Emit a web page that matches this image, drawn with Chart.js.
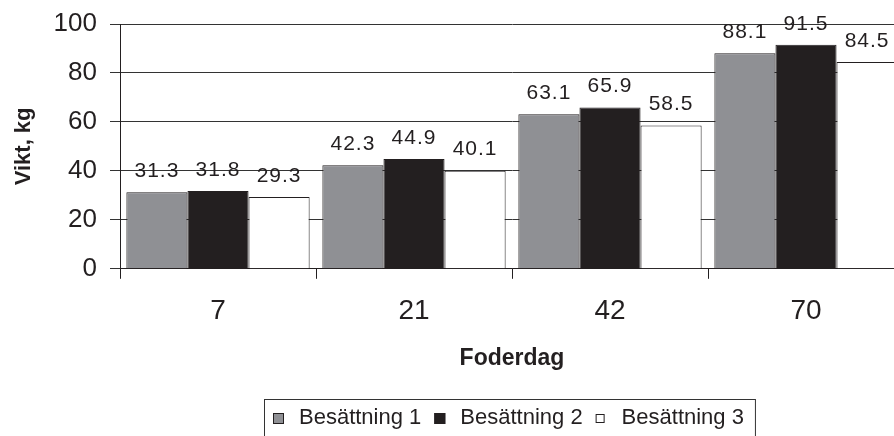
<!DOCTYPE html>
<html>
<head>
<meta charset="utf-8">
<script src="https://cdn.jsdelivr.net/npm/chart.js@4"></script>
<style>
  html, body { margin: 0; padding: 0; background: #fff; overflow: hidden; }
  #wrap { width: 894px; height: 436px; overflow: hidden; position: relative; }
  canvas { display: block; }
</style>
</head>
<body>
<div id="wrap"><canvas id="c" width="912" height="436"></canvas></div>
<script>
const categories = ['7', '21', '42', '70'];
const seriesNames = ['Besättning 1', 'Besättning 2', 'Besättning 3'];
const besattning1 = [31.3, 42.3, 63.1, 88.1];
const besattning2 = [31.8, 44.9, 65.9, 91.5];
const besattning3 = [29.3, 40.1, 58.5, 84.5];
const yTicks = [0, 20, 40, 60, 80, 100];

const FONT = '"Liberation Sans", Arial, sans-serif';
const INK = '#231f20';

// Value labels above each bar
const valueLabels = {
  id: 'valueLabels',
  afterDatasetsDraw(chart) {
    const ctx = chart.ctx;
    ctx.save();
    ctx.font = '21px ' + FONT;
    ctx.fillStyle = INK;
    ctx.textAlign = 'center';
    ctx.textBaseline = 'middle';
    if ('letterSpacing' in ctx) ctx.letterSpacing = '1px';
    chart.data.datasets.forEach((ds, i) => {
      chart.getDatasetMeta(i).data.forEach((bar, j) => {
        ctx.fillText(ds.data[j].toFixed(1), bar.x, bar.y - 21);
      });
    });
    ctx.restore();
  }
};

// Framed legend row under the axis title, built from the datasets
const framedLegend = {
  id: 'framedLegend',
  afterDraw(chart) {
    const ctx = chart.ctx;
    const sets = chart.data.datasets;
    const box = 11, gapText = 15, gapItem = 13;
    const baseY = chart.height - 12;
    ctx.save();
    ctx.font = '22px ' + FONT;
    const widths = sets.map(ds => ctx.measureText(ds.label).width);
    const total = widths.reduce((s, w) => s + box + gapText + w, 0) + gapItem * (sets.length - 1);
    let x = Math.round(508 - total / 2);
    const left = x - 9, right = x + total + 11;
    ctx.strokeStyle = '#333';
    ctx.lineWidth = 1;
    ctx.strokeRect(left + 0.5, chart.height - 37 + 0.5, right - left, 60);
    sets.forEach((ds, i) => {
      const s = i === 2 ? box - 2 : box;
      const top = baseY - s - (box - s) / 2;
      ctx.fillStyle = ds.backgroundColor;
      ctx.fillRect(x, top, s, s);
      ctx.strokeStyle = INK;
      ctx.strokeRect(x + 0.5, top + 0.5, s - 1, s - 1);
      ctx.fillStyle = INK;
      ctx.textAlign = 'left';
      ctx.textBaseline = 'alphabetic';
      ctx.fillText(ds.label, x + box + gapText, baseY);
      x += box + gapText + widths[i] + gapItem;
    });
    ctx.restore();
  }
};

const barStyle = (fill) => ({
  backgroundColor: fill,
  borderColor: INK,
  borderWidth: 1,
  categoryPercentage: 0.935,
  barPercentage: 1.0
});

new Chart(document.getElementById('c'), {
  type: 'bar',
  data: {
    labels: categories,
    datasets: [
      Object.assign({ label: seriesNames[0], data: besattning1 }, barStyle('#8f9094')),
      Object.assign({ label: seriesNames[1], data: besattning2 }, barStyle(INK)),
      Object.assign({ label: seriesNames[2], data: besattning3 }, barStyle('#ffffff'))
    ]
  },
  options: {
    responsive: false,
    animation: false,
    layout: { padding: { left: 0, right: 8, top: 24, bottom: 64 } },
    plugins: {
      tooltip: { enabled: false },
      legend: { display: false }
    },
    scales: {
      x: {
        grid: {
          display: true,
          drawOnChartArea: false,
          drawTicks: true,
          tickLength: 10,
          color: INK,
          offset: true
        },
        border: { display: true, color: INK, width: 1 },
        ticks: {
          font: { family: FONT, size: 28 },
          color: INK,
          padding: 16
        },
        title: {
          display: true,
          text: 'Foderdag',
          font: { family: FONT, size: 23, weight: 'bold' },
          color: INK,
          padding: { top: 0, bottom: 0 }
        }
      },
      y: {
        min: 0,
        max: 100,
        afterBuildTicks(scale) { scale.ticks = yTicks.map(v => ({ value: v })); },
        afterFit(scale) {
          scale.width = 120;
          scale.paddingTop = 0;
          scale.paddingBottom = 0;
        },
        grid: {
          display: true,
          drawOnChartArea: true,
          drawTicks: true,
          tickLength: 10,
          color: '#333'
        },
        border: { display: true, color: INK, width: 1 },
        ticks: {
          font: { family: FONT, size: 26 },
          color: INK,
          padding: 13
        },
        title: {
          display: true,
          text: 'Vikt, kg',
          font: { family: FONT, size: 22, weight: 'bold' },
          color: INK,
          padding: { top: 11, bottom: 10 }
        }
      }
    }
  },
  plugins: [valueLabels, framedLegend]
});
</script>
</body>
</html>
